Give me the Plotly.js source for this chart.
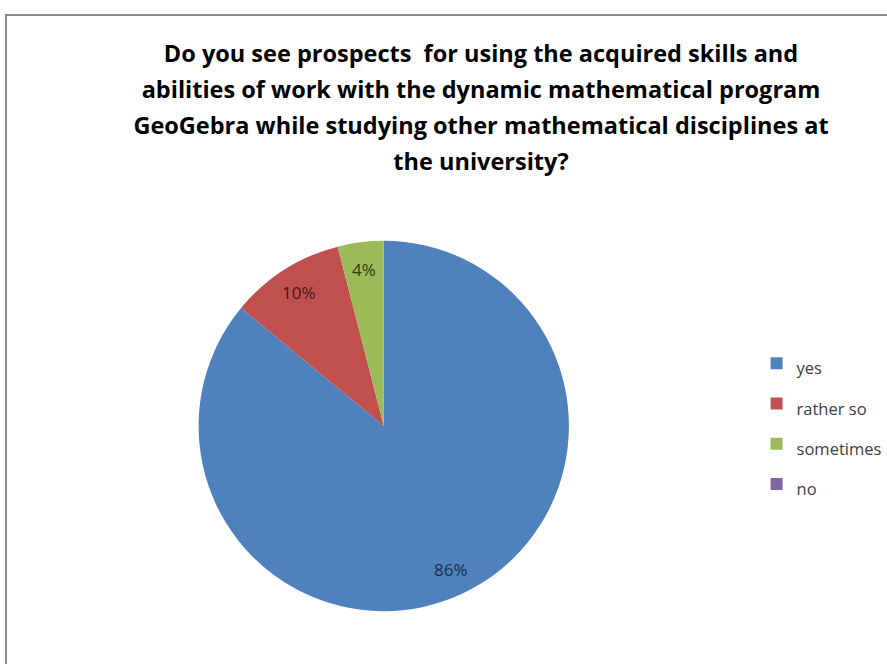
<!DOCTYPE html>
<html>
<head>
<meta charset="utf-8">
<script src="https://cdn.plot.ly/plotly-3.0.1.min.js"></script>
<style>
html,body{margin:0;padding:0;background:#fff;}
#wrap{position:relative;width:887px;height:664px;overflow:hidden;}
#chart{width:887px;height:664px;}
#frame{position:absolute;left:5px;top:14px;width:900px;height:700px;border-left:2px solid #8a8a8a;border-top:2px solid #8a8a8a;pointer-events:none;}
</style>
</head>
<body>
<div id="wrap"><div id="chart"></div><div id="frame"></div></div>
<script>
var categories = ['yes', 'rather so', 'sometimes', 'no'];
var values = [86, 10, 4, 0];
var labelTexts = ['86%', '10%', '4%', ''];
var colors = ['#4F81BD', '#C0504D', '#9BBB59', '#8064A2'];
var textColors = ['#1c2e4a', '#4a1515', '#2a3d10', '#222'];
var titleLines = [
  'Do you see prospects  for using the acquired skills and',
  'abilities of work with the dynamic mathematical program',
  'GeoGebra while studying other mathematical disciplines at',
  'the university?'
];

var W = 887, H = 664;
var domX = [199.5/W, 571.5/W], domY = [52/H, 424/H];

var legendLabels = categories.map(function(c){ return '<span style="font-size:16.5px">' + c + '</span>'; });

var trace = {
  type: 'pie',
  labels: legendLabels,
  values: values,
  textinfo: 'none',
  sort: false,
  direction: 'clockwise',
  rotation: 0,
  marker: {colors: colors, line: {width: 0}},
  domain: {x: domX, y: domY},
  hoverinfo: 'label+percent'
};

// data labels placed along each slice's bisector (computed from the values)
var total = values.reduce(function(a,b){return a+b;}, 0);
var cx = (domX[0]+domX[1])/2*W, cy = (1-(domY[0]+domY[1])/2)*H;
var R = Math.min((domX[1]-domX[0])*W, (domY[1]-domY[0])*H)/2;
var annotations = [];
var cum = 0;
values.forEach(function(v, i){
  var mid = (cum + v/2)/total*2*Math.PI;
  cum += v;
  if (!v) return;
  var px = cx + 0.85*R*Math.sin(mid);
  var py = cy - 0.85*R*Math.cos(mid);
  annotations.push({
    xref: 'paper', yref: 'paper', x: px/W, y: 1 - py/H,
    xanchor: 'center', yanchor: 'middle', showarrow: false,
    text: labelTexts[i],
    font: {family: 'Open Sans, sans-serif', size: 17, color: textColors[i]}
  });
});

var layout = {
  width: W, height: H,
  margin: {l: 0, r: 0, t: 0, b: 0},
  paper_bgcolor: '#fff',
  title: {
    text: titleLines.map(function(l){ return '<span style="font-size:23.5px">' + l + '</span>'; }).join('<br>'),
    font: {family: 'Open Sans, sans-serif', size: 27.7, color: '#000', weight: 'bold'},
    x: 481/W, xanchor: 'center',
    y: 1 - 62/H, yanchor: 'top', yref: 'container'
  },
  annotations: annotations,
  showlegend: true,
  legend: {
    x: 760/W, y: 1 - 338/H, xanchor: 'left', yanchor: 'top',
    font: {family: 'Open Sans, sans-serif', size: 28.7, color: '#404040'},
    bgcolor: 'rgba(0,0,0,0)', traceorder: 'normal'
  }
};

Plotly.newPlot('chart', [trace], layout, {displayModeBar: false, staticPlot: true});
</script>
</body>
</html>
